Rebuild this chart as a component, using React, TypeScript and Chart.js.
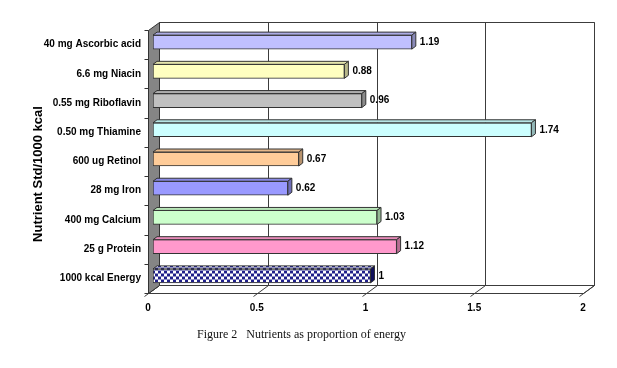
import React, { useEffect, useRef } from "react";
import { Chart, registerables } from "chart.js";

Chart.register(...registerables);

const categories = [
  "40 mg Ascorbic acid",
  "6.6 mg Niacin",
  "0.55 mg Riboflavin",
  "0.50 mg Thiamine",
  "600 ug Retinol",
  "28 mg Iron",
  "400 mg Calcium",
  "25 g Protein",
  "1000 kcal Energy",
];
const values = [1.19, 0.88, 0.96, 1.74, 0.67, 0.62, 1.03, 1.12, 1];
const barColors = ["#C0C0FF", "#FFFFC0", "#C0C0C0", "#CCFFFF", "#FFCC99", "#9999FF", "#CCFFCC", "#FF99CC", "checker"];
const xTicks = [0, 0.5, 1, 1.5, 2];
const xTickLabels = ["0", "0.5", "1", "1.5", "2"];
const axisTitle = "Nutrient Std/1000 kcal";
const caption = "Figure 2\u00a0\u00a0 Nutrients as proportion of energy";

const FONT = "Arial, 'Liberation Sans', sans-serif";
const DX = 11; // wall depth
const DY = -8;
const BX = 5; // bar shift to mid-depth
const BY = -2.5;
const BDX = 4; // bar depth
const BDY = -3;

function shade(hex: string, f: number) {
  const n = parseInt(hex.slice(1), 16);
  const r = Math.round(((n >> 16) & 255) * f);
  const g = Math.round(((n >> 8) & 255) * f);
  const b = Math.round((n & 255) * f);
  return `rgb(${r},${g},${b})`;
}

function makeChecker(ctx: CanvasRenderingContext2D) {
  const c = document.createElement("canvas");
  c.width = 6;
  c.height = 6;
  const g = c.getContext("2d")!;
  g.fillStyle = "#ffffff";
  g.fillRect(0, 0, 6, 6);
  g.fillStyle = "#20208a";
  g.fillRect(0, 0, 3, 3);
  g.fillRect(3, 3, 3, 3);
  return ctx.createPattern(c, "repeat")!;
}

function poly(ctx: CanvasRenderingContext2D, pts: number[][], fill: any, stroke: string) {
  ctx.beginPath();
  ctx.moveTo(pts[0][0], pts[0][1]);
  for (let i = 1; i < pts.length; i++) ctx.lineTo(pts[i][0], pts[i][1]);
  ctx.closePath();
  if (fill) {
    ctx.fillStyle = fill;
    ctx.fill();
  }
  ctx.strokeStyle = stroke;
  ctx.stroke();
}

const frame3d = {
  id: "frame3d",
  beforeDatasetsDraw(chart: any) {
    const { ctx, chartArea: a, scales } = chart;
    const xs = scales.x;
    const ys = scales.y;
    const L = a.left + 0.5,
      R = a.right + 0.5,
      T = a.top + 0.5,
      B = a.bottom + 0.5;
    ctx.save();
    ctx.lineWidth = 1;
    // back wall
    poly(ctx, [[L + DX, T + DY], [R + DX, T + DY], [R + DX, B + DY], [L + DX, B + DY]], "#ffffff", "#3c3c3c");
    // back gridlines
    xTicks.forEach((v) => {
      const px = Math.round(xs.getPixelForValue(v)) + 0.5 + DX;
      ctx.beginPath();
      ctx.moveTo(px, T + DY);
      ctx.lineTo(px, B + DY);
      ctx.strokeStyle = "#3c3c3c";
      ctx.stroke();
    });
    // floor
    poly(ctx, [[L, B], [L + DX, B + DY], [R + DX, B + DY], [R, B]], "#ffffff", "#3c3c3c");
    xTicks.forEach((v) => {
      const px = Math.round(xs.getPixelForValue(v)) + 0.5;
      ctx.beginPath();
      ctx.moveTo(px - 4, B + 3);
      ctx.lineTo(px + DX, B + DY);
      ctx.strokeStyle = "#3c3c3c";
      ctx.stroke();
    });
    // side wall
    poly(ctx, [[L, T], [L + DX, T + DY], [L + DX, B + DY], [L, B]], "#858585", "#333333");
    // left tick marks
    const n = categories.length;
    for (let i = 0; i <= n; i++) {
      const yy = Math.round(ys.top + (i * (ys.bottom - ys.top)) / n) + 0.5;
      ctx.beginPath();
      ctx.moveTo(L - 4, yy);
      ctx.lineTo(L, yy);
      ctx.strokeStyle = "#333333";
      ctx.stroke();
    }
    ctx.restore();
    ctx.save();
    ctx.translate(BX, BY);
  },
  afterDatasetsDraw(chart: any) {
    const ctx = chart.ctx;
    const meta = chart.getDatasetMeta(0);
    const ds = chart.data.datasets[0];
    meta.data.forEach((bar: any, i: number) => {
      const { x, y, base, height } = bar.getProps(["x", "y", "base", "height"], true);
      const top = y - height / 2;
      const bot = y + height / 2;
      const col = barColors[i];
      const isPat = col === "checker";
      const topFill = isPat ? ds.backgroundColor[i] : shade(col, 0.9);
      const sideFill = isPat ? "#10105a" : shade(col, 0.72);
      ctx.lineWidth = 1;
      poly(ctx, [[base, top], [base + BDX, top + BDY], [x + BDX, top + BDY], [x, top]], topFill, "#333333");
      poly(ctx, [[x, top], [x + BDX, top + BDY], [x + BDX, bot + BDY], [x, bot]], sideFill, "#333333");
    });
    ctx.restore();
    // data labels
    ctx.save();
    ctx.font = `bold 10px ${FONT}`;
    ctx.fillStyle = "#000000";
    ctx.textBaseline = "middle";
    ctx.textAlign = "left";
    meta.data.forEach((bar: any, i: number) => {
      const { x, y } = bar.getProps(["x", "y"], true);
      ctx.fillText(String(values[i]), x + BX + BDX + 4, y + BY);
    });
    // axis title
    ctx.font = `bold 13px ${FONT}`;
    ctx.textAlign = "center";
    ctx.translate(38, 174);
    ctx.rotate(-Math.PI / 2);
    ctx.fillText(axisTitle, 0, 0);
    ctx.restore();
  },
};

export default function App() {
  const ref = useRef<HTMLCanvasElement | null>(null);
  useEffect(() => {
    const canvas = ref.current!;
    const ctx = canvas.getContext("2d")!;
    const checker = makeChecker(ctx);
    const bg = barColors.map((c) => (c === "checker" ? checker : c));
    const chart = new Chart(canvas, {
      type: "bar",
      data: {
        labels: categories,
        datasets: [
          {
            data: values,
            backgroundColor: bg as any,
            borderColor: "#333333",
            borderWidth: 1,
            borderSkipped: false,
            barThickness: 14,
          },
        ],
      },
      options: {
        indexAxis: "y",
        animation: false,
        responsive: false,
        devicePixelRatio: 1,
        layout: { padding: { top: 30, right: 34, left: 0, bottom: 0 } },
        plugins: { legend: { display: false }, tooltip: { enabled: false } },
        scales: {
          x: {
            type: "linear",
            min: 0,
            max: 2,
            afterBuildTicks: (s: any) => {
              s.ticks = xTicks.map((v) => ({ value: v }));
            },
            grid: { display: false, drawTicks: false },
            border: { display: false },
            ticks: {
              font: { family: FONT, size: 10, weight: "bold" },
              color: "#000000",
              padding: 9,
              maxRotation: 0,
              callback: (_v: any, i: number) => xTickLabels[i],
            },
            afterFit: (s: any) => {
              s.height = 75;
            },
          },
          y: {
            type: "category",
            grid: { display: false, drawTicks: false },
            border: { display: false },
            ticks: {
              font: { family: FONT, size: 10, weight: "bold" },
              color: "#000000",
              padding: 7,
            },
            afterFit: (s: any) => {
              s.width = 148;
            },
          },
        },
      },
      plugins: [frame3d],
    } as any);
    return () => chart.destroy();
  }, []);
  return (
    <div style={{ position: "absolute", left: 0, top: 0, width: 617, height: 368, background: "#ffffff" }}>
      <canvas ref={ref} width={617} height={368} style={{ display: "block" }} />
      <div
        style={{
          position: "absolute",
          left: 197,
          top: 327,
          fontFamily: "'Times New Roman', 'Liberation Serif', serif",
          fontSize: 12,
          color: "#111111",
          whiteSpace: "pre",
        }}
      >
        {caption}
      </div>
    </div>
  );
}
